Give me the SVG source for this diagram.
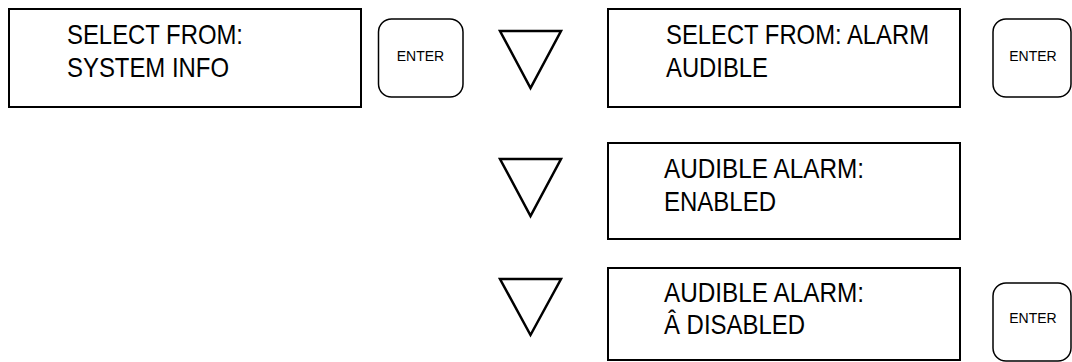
<svg xmlns="http://www.w3.org/2000/svg" width="1072" height="362" viewBox="0 0 1072 362">
<style>
.box{fill:#fff;stroke:#000;stroke-width:2}
.btn{fill:#fff;stroke:#000;stroke-width:1.5}
.tri{fill:none;stroke:#000;stroke-width:2.5;stroke-linejoin:miter}
.lcd{font-family:"Liberation Sans",Arial,sans-serif;font-size:28.5px;fill:#000}
.key{font-family:"Liberation Sans",Arial,sans-serif;font-size:14px;fill:#000;text-anchor:middle}
</style>
<rect width="1072" height="362" fill="#fff"/>
<g id="display1">
<rect class="box" x="9" y="9" width="352" height="98"/>
<text class="lcd" x="67" y="44" textLength="176" lengthAdjust="spacingAndGlyphs">SELECT FROM:</text>
<text class="lcd" x="67" y="77" textLength="162" lengthAdjust="spacingAndGlyphs">SYSTEM INFO</text>
</g>
<g id="enter1">
<rect class="btn" x="378.5" y="19" width="84.5" height="78" rx="13"/>
<text class="key" x="420.5" y="61">ENTER</text>
</g>
<g id="down1"><polygon class="tri" points="500,31 561,31 530.5,88"/></g>
<g id="display2">
<rect class="box" x="608" y="9" width="352" height="98"/>
<text class="lcd" x="666" y="44" textLength="263" lengthAdjust="spacingAndGlyphs">SELECT FROM: ALARM</text>
<text class="lcd" x="666" y="77" textLength="102" lengthAdjust="spacingAndGlyphs">AUDIBLE</text>
</g>
<g id="enter2">
<rect class="btn" x="993" y="19" width="78" height="78" rx="13"/>
<text class="key" x="1033" y="61">ENTER</text>
</g>
<g id="down2"><polygon class="tri" points="500,159 561,159 530.5,216"/></g>
<g id="display3">
<rect class="box" x="608" y="143" width="352" height="96"/>
<text class="lcd" x="664" y="178" textLength="200" lengthAdjust="spacingAndGlyphs">AUDIBLE ALARM:</text>
<text class="lcd" x="664" y="211" textLength="112" lengthAdjust="spacingAndGlyphs">ENABLED</text>
</g>
<g id="down3"><polygon class="tri" points="500,279 561,279 530.5,335"/></g>
<g id="display4">
<rect class="box" x="608" y="268" width="352" height="92"/>
<text class="lcd" x="664" y="302" textLength="200" lengthAdjust="spacingAndGlyphs">AUDIBLE ALARM:</text>
<text class="lcd" x="664" y="334" textLength="141" lengthAdjust="spacingAndGlyphs">Â DISABLED</text>
</g>
<g id="enter3">
<rect class="btn" x="993" y="283" width="78" height="78" rx="13"/>
<text class="key" x="1033" y="323">ENTER</text>
</g>
<g id="connectors"></g>
</svg>
